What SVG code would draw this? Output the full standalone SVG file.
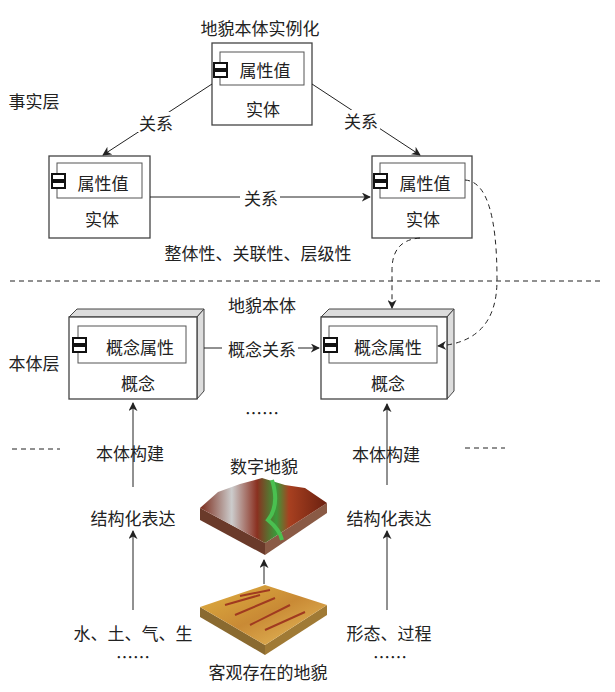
<svg xmlns="http://www.w3.org/2000/svg" width="615" height="692" viewBox="0 0 615 692">
<style>
text{font-family:"Noto Sans CJK SC","Noto Sans",sans-serif;font-size:17px;fill:#222;text-anchor:middle;dominant-baseline:central}
.box{fill:#fff;stroke:#444;stroke-width:1.3}
.in{fill:#fff;stroke:#555;stroke-width:1}
.ln{stroke:#222;stroke-width:1;fill:none}
.ds{stroke:#222;stroke-width:1;fill:none;stroke-dasharray:5,4}
.side{fill:#ddd;stroke:#444;stroke-width:1}
</style>
<defs>
<marker id="a" viewBox="0 0 10 10" refX="9" refY="5" markerWidth="9" markerHeight="9" orient="auto" markerUnits="userSpaceOnUse"><path d="M0,0L10,5L0,10L3,5z" fill="#222"/></marker>
<g id="ic"><rect x="0" y="0" width="13" height="6" fill="#fff" stroke="#111" stroke-width="2"/><rect x="0" y="8" width="13" height="6" fill="#fff" stroke="#111" stroke-width="2"/></g>
<linearGradient id="dem" x1="0" y1="0" x2="1" y2="0"><stop offset="0" stop-color="#7a2a1a"/><stop offset="0.25" stop-color="#ccc"/><stop offset="0.45" stop-color="#8a3020"/><stop offset="0.6" stop-color="#3a9a3a"/><stop offset="0.7" stop-color="#a84020"/><stop offset="1" stop-color="#6a2010"/></linearGradient>
<linearGradient id="ter" x1="0" y1="0" x2="1" y2="1"><stop offset="0" stop-color="#e0b040"/><stop offset="0.5" stop-color="#c98a35"/><stop offset="1" stop-color="#e8c060"/></linearGradient>
</defs>
<text x="260" y="27">地貌本体实例化</text>
<text x="34" y="100">事实层</text>
<text x="34" y="362">本体层</text>
<g id="n1"><rect class="box" x="212" y="43" width="100" height="82"/><rect class="in" x="220" y="52" width="84" height="33"/><use href="#ic" x="214" y="63"/><text x="265" y="69">属性值</text><text x="263" y="108">实体</text></g>
<g id="n2"><rect class="box" x="49" y="156" width="101" height="82"/><rect class="in" x="57" y="163" width="85" height="35"/><use href="#ic" x="52" y="174"/><text x="103" y="182">属性值</text><text x="102" y="218">实体</text></g>
<g id="n3"><rect class="box" x="372" y="156" width="100" height="82"/><rect class="in" x="380" y="163" width="85" height="35"/><use href="#ic" x="374" y="174"/><text x="425" y="182">属性值</text><text x="423" y="218">实体</text></g>
<text x="258" y="252">整体性、关联性、层级性</text>
<line class="ds" x1="10" y1="281" x2="602" y2="281"/>
<text x="262" y="304">地貌本体</text>
<g id="n4"><path class="side" d="M69,317L77,309L204,309L197,317z"/><path class="side" d="M197,317L204,309L204,391L197,399z"/><rect class="box" x="69" y="317" width="128" height="82"/><rect class="in" x="78" y="326" width="108" height="37"/><use href="#ic" x="73" y="338"/><text x="140" y="346">概念属性</text><text x="138" y="382">概念</text></g>
<g id="n5"><path class="side" d="M321,317L329,309L454,309L447,317z"/><path class="side" d="M447,317L454,309L454,391L447,399z"/><rect class="box" x="321" y="317" width="126" height="82"/><rect class="in" x="329" y="326" width="108" height="37"/><use href="#ic" x="324" y="338"/><text x="388" y="346">概念属性</text><text x="388" y="382">概念</text></g>
<text x="262" y="412">……</text>
<line class="ds" x1="12" y1="449" x2="60" y2="449"/>
<line class="ds" x1="465" y1="448" x2="505" y2="448"/>
<text x="130" y="452">本体构建</text>
<text x="133" y="517">结构化表达</text>
<text x="133" y="632">水、土、气、生</text>
<text x="133" y="656">……</text>
<text x="386" y="453">本体构建</text>
<text x="389" y="517">结构化表达</text>
<text x="389" y="632">形态、过程</text>
<text x="390" y="656">……</text>
<text x="264" y="465">数字地貌</text>
<text x="268" y="671">客观存在的地貌</text>
<g id="dem"><path d="M200,508L265,543L265,555L200,520z" fill="#6a3a2a"/><path d="M265,543L327,503L327,513L265,555z" fill="#8a5a45"/><path d="M200,508L218,492L240,484L262,478L285,485L305,488L327,503L265,543z" fill="url(#dem)"/><path d="M272,480Q280,505 268,520Q280,530 282,540" stroke="#4ac050" stroke-width="4" fill="none"/></g>
<g id="ter"><path d="M200,607L265,645L265,655L200,617z" fill="#8a6a30"/><path d="M265,645L327,605L327,615L265,655z" fill="#a07a35"/><path d="M200,607L265,585L327,605L265,645z" fill="url(#ter)"/><path d="M225,605L260,595M235,615L275,598M250,625L290,605M265,630L305,612M240,596L270,590" stroke="#a03a20" stroke-width="2" fill="none"/></g>
<g id="connectors">
<line class="ln" x1="212" y1="84" x2="103" y2="155" marker-end="url(#a)"/>
<line class="ln" x1="312" y1="84" x2="420" y2="155" marker-end="url(#a)"/>
<line class="ln" x1="150" y1="197" x2="370" y2="197" marker-end="url(#a)"/>
<rect x="137" y="112" width="38" height="20" fill="#fff"/><text x="156" y="122">关系</text>
<rect x="342" y="110" width="38" height="20" fill="#fff"/><text x="361" y="120">关系</text>
<rect x="240" y="187" width="40" height="20" fill="#fff"/><text x="261" y="197">关系</text>
<path class="ds" d="M420,238Q392,240 392,270L392,308" marker-end="url(#a)"/>
<path class="ds" d="M465,180Q497,182 497,280Q497,342 438,346" marker-end="url(#a)"/>
<line class="ln" x1="204" y1="348" x2="222" y2="348"/>
<text x="262" y="348">概念关系</text>
<line class="ln" x1="298" y1="348" x2="319" y2="348" marker-end="url(#a)"/>
<line class="ln" x1="133" y1="487" x2="133" y2="403" marker-end="url(#a)"/>
<line class="ln" x1="133" y1="610" x2="133" y2="531" marker-end="url(#a)"/>
<line class="ln" x1="387" y1="485" x2="387" y2="404" marker-end="url(#a)"/>
<line class="ln" x1="387" y1="610" x2="387" y2="531" marker-end="url(#a)"/>
<line class="ln" x1="264" y1="584" x2="264" y2="560" marker-end="url(#a)"/>
</g>
</svg>
